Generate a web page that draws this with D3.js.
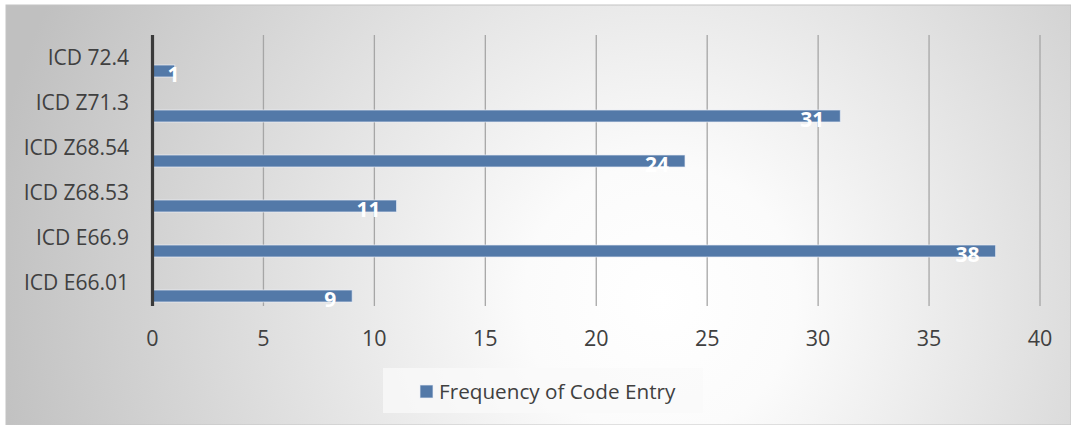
<!DOCTYPE html>
<html><head><meta charset="utf-8">
<script src="https://cdn.jsdelivr.net/npm/d3@7"></script>
<style>html,body{margin:0;padding:0;background:#fff;overflow:hidden}</style>
</head><body><div id="chart"></div>
<script>
const categories = ["ICD 72.4","ICD Z71.3","ICD Z68.54","ICD Z68.53","ICD E66.9","ICD E66.01"];
const values = [1,31,24,11,38,9];
const xTicks = [0,5,10,15,20,25,30,35,40];
const seriesName = "Frequency of Code Entry";

const W = 1071, H = 425;
const font = "'Open Sans', 'Noto Sans', sans-serif";
const svg = d3.select("#chart").append("svg").attr("width", W).attr("height", H);
const defs = svg.append("defs");
const g = defs.append("radialGradient").attr("id","bg").attr("gradientUnits","userSpaceOnUse")
  .attr("cx",660).attr("cy",300).attr("r",680);
g.append("stop").attr("offset","0").attr("stop-color","#ffffff");
g.append("stop").attr("offset","0.2").attr("stop-color","#fbfbfb");
g.append("stop").attr("offset","1").attr("stop-color","#c0c0c0");

svg.append("rect").attr("x",6).attr("y",5).attr("width",W-6).attr("height",H-5)
  .attr("fill","url(#bg)").attr("stroke","#c4c4c4").attr("stroke-width",1);

const x = d3.scaleLinear().domain([0,40]).range([152.5,1040]);
const y = d3.scaleBand().domain(categories).range([35,305]).padding(0);

// gridlines
svg.append("g").selectAll("line").data(xTicks.slice(1)).join("line")
  .attr("x1",d=>x(d)).attr("x2",d=>x(d)).attr("y1",35).attr("y2",306)
  .attr("stroke","#a6a6a6").attr("stroke-width",1.3);

// bars
svg.append("g").selectAll("rect").data(values).join("rect")
  .attr("x",x(0)).attr("y",(d,i)=>y(categories[i])+30)
  .attr("width",d=>x(d)-x(0)).attr("height",12)
  .attr("fill","#5379a8").attr("stroke","rgba(235,240,248,0.7)").attr("stroke-width",1);

// axis line
svg.append("line").attr("x1",x(0)).attr("x2",x(0)).attr("y1",35).attr("y2",306)
  .attr("stroke","#3a3a3a").attr("stroke-width",3.2);

// category labels
svg.append("g").selectAll("text").data(categories).join("text")
  .attr("x",129).attr("y",d=>y(d)+y.bandwidth()/2+7.5)
  .attr("text-anchor","end").attr("font-family",font).attr("font-size",21)
  .attr("fill","#404040").text(d=>d);

// x tick labels
svg.append("g").selectAll("text").data(xTicks).join("text")
  .attr("x",d=>x(d)).attr("y",346).attr("text-anchor","middle")
  .attr("font-family",font).attr("font-size",21.5).attr("fill","#404040").text(d=>d);

// data labels
svg.append("g").selectAll("text").data(values).join("text")
  .attr("x",d=>Math.max(x(d)-16, x(0)+27))
  .attr("y",(d,i)=>y(categories[i])+47)
  .attr("text-anchor","end").attr("font-family",font).attr("font-weight","bold")
  .attr("font-size",21).attr("fill","#ffffff").text(d=>d);

// legend
svg.append("rect").attr("x",383).attr("y",368).attr("width",320).attr("height",45)
  .attr("fill","rgba(250,250,250,0.75)");
svg.append("rect").attr("x",420).attr("y",385).attr("width",13).attr("height",13)
  .attr("fill","#5379a8").attr("stroke","rgba(235,240,248,0.7)");
svg.append("text").attr("x",439).attr("y",399).attr("font-family",font).attr("font-size",20.7)
  .attr("fill","#404040").text(seriesName);
</script></body></html>
